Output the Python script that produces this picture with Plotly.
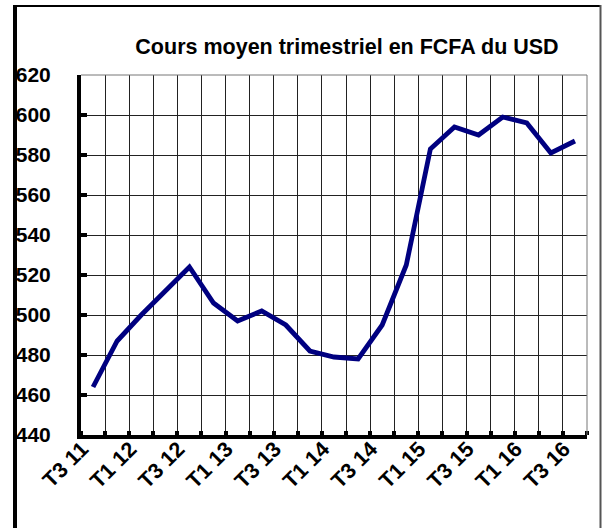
import plotly.graph_objects as go

quarters = ["T3 11", "T4 11", "T1 12", "T2 12", "T3 12", "T4 12", "T1 13", "T2 13",
            "T3 13", "T4 13", "T1 14", "T2 14", "T3 14", "T4 14", "T1 15", "T2 15",
            "T3 15", "T4 15", "T1 16", "T2 16", "T3 16"]
usd_fcfa = [464, 487, 500, 512, 524, 506, 497, 502, 495, 482, 479, 478, 495, 525,
            583, 594, 590, 599, 596, 581, 587]
y_ticks = [440, 460, 480, 500, 520, 540, 560, 580, 600, 620]

W, H = 604, 528
L, R, T, B = 81, 587, 75, 435

idx = list(range(len(quarters)))

fig = go.Figure()
fig.add_trace(go.Scatter(x=idx, y=usd_fcfa, mode="lines",
                         line=dict(color="#000080", width=4.8), showlegend=False,
                         hoverinfo="skip"))

def px(xp):
    return (xp - L) / (R - L)

def py(yp):
    return (B - yp) / (B - T)

fig.update_layout(
    width=W, height=H,
    margin=dict(l=L, r=W - R, t=T, b=H - B, pad=0),
    paper_bgcolor="white", plot_bgcolor="white",
    font=dict(family="Liberation Sans, Arial", color="black"),
    title=dict(text="Cours moyen trimestriel en FCFA du USD",
               font=dict(size=21.5, weight="bold", family="Liberation Sans, Arial"),
               x=347 / W, xanchor="center", y=1 - 46 / H, yanchor="middle"),
    xaxis=dict(range=[-0.5, len(quarters) - 0.5], tickmode="array",
               tickvals=idx[::2], ticktext=quarters[::2], tickangle=-45,
               tickfont=dict(size=21.5, weight="bold"), ticks="", showgrid=False,
               zeroline=False, showline=True, linecolor="black", linewidth=4,
               minor=dict(tickmode="array",
                          tickvals=[i - 0.5 for i in range(len(quarters) + 1)],
                          showgrid=True, gridcolor="#222", gridwidth=1,
                          ticks="inside", ticklen=4, tickwidth=4, tickcolor="black"),
               ticklabelstandoff=-11, ticklabelshift=-11, fixedrange=True),
    yaxis=dict(range=[440, 620], tickmode="array", tickvals=y_ticks,
               tickfont=dict(size=21, weight="bold"), showgrid=True,
               gridcolor="#222", gridwidth=1, ticks="inside", ticklen=6,
               tickwidth=4, tickcolor="black", showline=True, linecolor="black",
               linewidth=4, zeroline=False, ticklabelstandoff=22, fixedrange=True),
    shapes=[
        dict(type="line", xref="paper", yref="paper", x0=px(15), x1=px(15),
             y0=py(5), y1=py(540), line=dict(color="black", width=4)),
        dict(type="line", xref="paper", yref="paper", x0=px(13), x1=px(601),
             y0=py(6), y1=py(6), line=dict(color="black", width=2)),
        dict(type="line", xref="paper", yref="paper", x0=px(600.5), x1=px(600.5),
             y0=py(5), y1=py(540), line=dict(color="#555", width=2)),
        dict(type="line", xref="paper", yref="paper", x0=0, x1=1, y0=1, y1=1,
             line=dict(color="#777", width=1)),
        dict(type="line", xref="paper", yref="paper", x0=1, x1=1, y0=0, y1=1,
             line=dict(color="#777", width=1)),
    ],
)

fig.write_html(
    "out.html",
    config={"displayModeBar": False},
    post_script="document.body.style.margin='0';document.body.style.overflow='hidden';",
)
